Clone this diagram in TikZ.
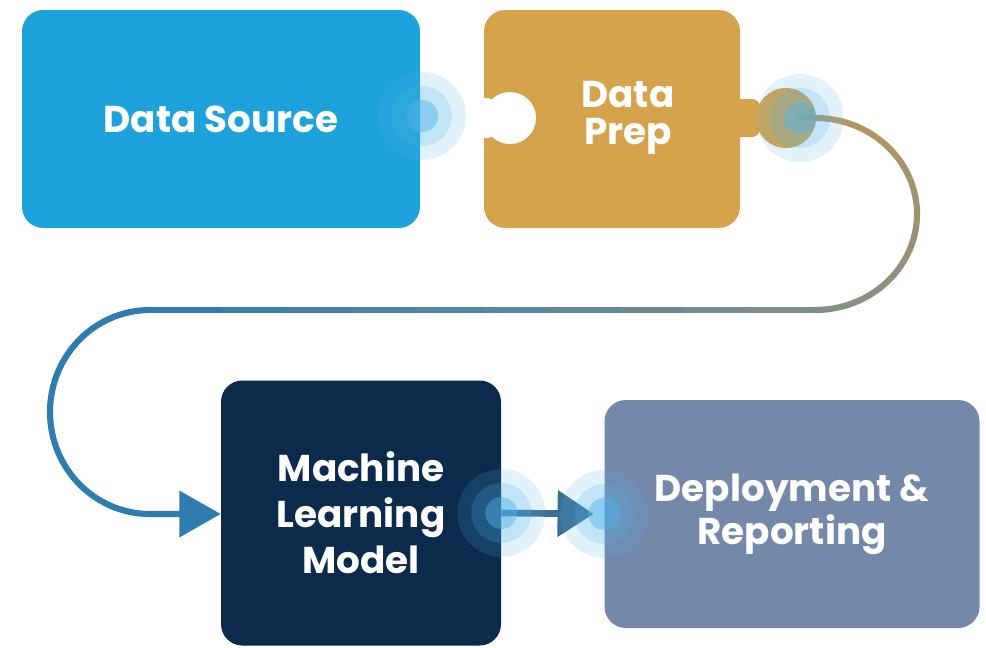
\documentclass[tikz,border=0pt]{standalone}
\usepackage{fontspec}
\setmainfont{Poppins}
\usetikzlibrary{arrows.meta,calc}
\definecolor{dsblue}{HTML}{1DA2DB}
\definecolor{dpgold}{HTML}{D6A34D}
\definecolor{mlnavy}{HTML}{0C2A4C}
\definecolor{drslate}{HTML}{7488A9}
\definecolor{glow}{HTML}{4FB3EA}
\definecolor{cA}{HTML}{B7975A}
\definecolor{cB}{HTML}{7E8E8E}
\definecolor{cC}{HTML}{2F7DB0}
\definecolor{arr}{HTML}{3B6E95}
\tikzset{
  box/.style={rounded corners=16pt, inner sep=0pt, text=white, align=center,
    font=\fontsize{28}{34.5}\selectfont\bfseries},
  conn/.style={line width=4.6pt, line cap=round},
  glowring/.style={fill=glow, draw=none},
}
\newcommand{\glowat}[1]{%
  \fill[glowring, opacity=.16] (#1) circle[radius=44];
  \fill[glowring, opacity=.22] (#1) circle[radius=30];
  \fill[glowring, opacity=.45] (#1) circle[radius=16];
}
\begin{document}
\begin{tikzpicture}[x=0.75pt,y=-0.75pt]
\useasboundingbox (0,0) rectangle (986,647);
\fill[white] (0,0) rectangle (986,647);
% boxes
\node[box, fill=dsblue, minimum width=398*0.75pt, minimum height=218*0.75pt] (ds) at (221,119) {Data Source};
\node[box, fill=dpgold, minimum width=256*0.75pt, minimum height=218*0.75pt] (dp) at (612,119) {};
% puzzle tab and notch
\fill[dpgold, rounded corners=6pt] (730,99) -- (760,99) -- (760,137) -- (730,137) -- cycle;
\fill[dpgold] (786,118) circle[radius=30];
\fill[white, rounded corners=5pt] (470,98) -- (494,98) -- (494,138) -- (470,138) -- cycle;
\fill[white] (510,118) circle[radius=26];
\node[text=white, align=center, font=\fontsize{28}{28}\selectfont\bfseries] (dpt) at (628,118) {Data\\Prep};
\node[box, fill=mlnavy, minimum width=280*0.75pt, minimum height=265*0.75pt] (ml) at (361,513) {Machine\\Learning\\Model};
\node[box, fill=drslate, minimum width=375*0.75pt, minimum height=228*0.75pt, font=\fontsize{28}{32}\selectfont\bfseries] (dr) at (792,514) {Deployment \&\\Reporting};
\coordinate (tabc) at (800,118);
\coordinate (rc) at (815,214);
\coordinate (lc) at (150,412);
% gradient connector: tab -> ML
\draw[conn, draw=cA] (tabc) -- (815,118);
\foreach \i in {0,...,8}{
  \pgfmathsetmacro\a{-90+20*\i}
  \pgfmathsetmacro\p{100-100*\i/9}
  \draw[conn, draw=cA!\p!cB] ($(rc)+(\a:102 and 96)$) arc[start angle=\a, end angle=\a+20, x radius=102, y radius=96];
}
\foreach \i in {0,...,9}{
  \pgfmathsetmacro\xa{815-66.5*\i}
  \pgfmathsetmacro\xb{815-66.5*(\i+1)}
  \pgfmathsetmacro\p{100-100*\i/9}
  \draw[conn, draw=cB!\p!cC] (\xa,310) -- (\xb,310);
}
\draw[conn, draw=cC, -{Triangle[length=31pt 0, width=34pt 0]}] ($(lc)+(270:100 and 102)$) arc[start angle=270, end angle=90, x radius=100, y radius=102] -- (ml.west |- 0,514);
% ML -> Deployment
\draw[arr, line width=5pt, shorten >=8, -{Triangle[length=27pt 0, width=34pt 0]}] (ml.east) -- (dr.west);
% glows
\glowat{422,116}
\glowat{tabc}
\glowat{ml.east}
\glowat{dr.west}
\end{tikzpicture}
\end{document}
